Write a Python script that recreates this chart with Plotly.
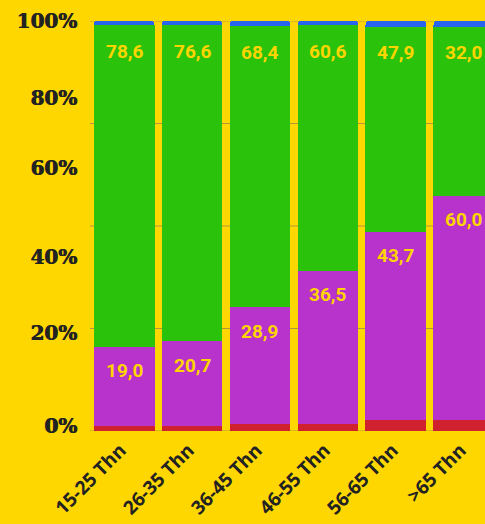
import numpy as np
import plotly.graph_objects as go

categories = ["15-25 Thn", "26-35 Thn", "36-45 Thn", "46-55 Thn", "56-65 Thn", ">65 Thn"]
red_vals = [1.1, 1.1, 1.6, 1.6, 2.6, 2.6]
purple_vals = [19.4, 20.8, 28.6, 37.5, 46.0, 54.8]
green_vals = [78.5, 77.1, 68.5, 59.9, 50.0, 41.2]
blue_vals = [1.0, 1.0, 1.3, 1.0, 1.4, 1.4]
purple_labels = ["19,0", "20,7", "28,9", "36,5", "43,7", "60,0"]
green_labels = ["78,6", "76,6", "68,4", "60,6", "47,9", "32,0"]
ytick_pos = [1.3, 23.8, 42.5, 64.1, 81.2, 100]
ytick_text = ["0%", "20%", "40%", "60%", "80%", "100%"]
grid_vals = [0, 25, 50, 75, 100]

BG = "#FFD700"
colors = {"red": "#D0222E", "purple": "#B832CC", "green": "#2BC20B", "blue": "#2864F0"}

fig = go.Figure()
for name, vals in [("red", red_vals), ("purple", purple_vals), ("green", green_vals), ("blue", blue_vals)]:
    fig.add_trace(go.Bar(x=categories, y=vals, name=name, marker=dict(color=colors[name], line=dict(width=0)),
                         hoverinfo="skip"))

purple_top = np.array(red_vals) + np.array(purple_vals)
green_top = purple_top + np.array(green_vals)

label_font = dict(family="Roboto", size=19, color="#FFD500", weight="bold")
annotations = []
for i, c in enumerate(categories):
    annotations.append(dict(x=c, y=float(purple_top[i]), text=purple_labels[i], showarrow=False,
                            yshift=-24, yanchor="middle", xanchor="center", font=label_font))
    annotations.append(dict(x=c, y=float(green_top[i]), text=green_labels[i], showarrow=False,
                            yshift=-26, yanchor="middle", xanchor="center", font=label_font))

shapes = [dict(type="line", xref="paper", x0=0, x1=1, yref="y", y0=g, y1=g, layer="below",
               line=dict(color="#B09A3A", width=1)) for g in grid_vals]

fig.update_layout(
    barmode="stack",
    bargap=0.103,
    barcornerradius=4,
    width=485, height=524,
    margin=dict(l=90, r=0, t=21, b=93),
    paper_bgcolor=BG, plot_bgcolor=BG,
    showlegend=False,
    annotations=annotations,
    shapes=shapes,
    xaxis=dict(range=[-0.5, 5.309], tickangle=-45, showgrid=False, zeroline=False, showline=False,
               tickvals=categories, ticktext=[c + "\u00a0" for c in categories],
               ticklabelstandoff=0,
               tickfont=dict(family="Open Sans", size=19, color="#222222", weight="bold"),
               automargin=False),
    yaxis=dict(range=[0, 100], tickvals=ytick_pos, ticktext=ytick_text, showgrid=False, zeroline=False,
               showline=False, ticklabelstandoff=12,
               tickfont=dict(family="DejaVu Serif", size=20, color="#222222", weight="bold",
                             shadow="0.8px 0 0 #222222"),
               automargin=False),
)

fig.write_html("out.html")
